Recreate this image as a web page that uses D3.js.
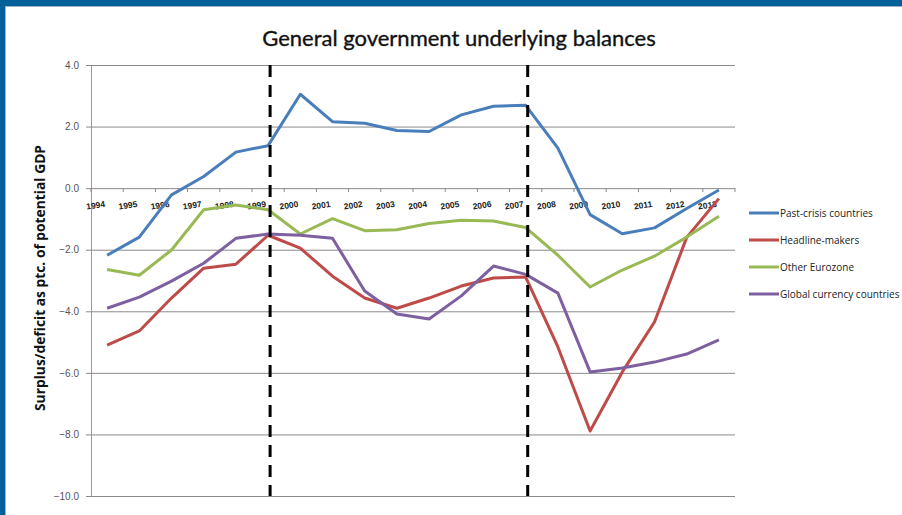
<!DOCTYPE html>
<html>
<head>
<meta charset="utf-8">
<script src="https://cdn.jsdelivr.net/npm/d3@7"></script>
<style>
  html, body { margin: 0; padding: 0; background: #fff; }
  svg { display: block; }
</style>
</head>
<body>
<svg id="chart" width="902" height="515"></svg>
<script>
// Years on the category axis
const years = ["1994","1995","1996","1997","1998","1999","2000","2001","2002","2003",
               "2004","2005","2006","2007","2008","2009","2010","2011","2012","2013"];

// Underlying balance, % of potential GDP
const pastCrisis   = [-2.18,-1.59,-0.22,0.38,1.17,1.38,3.05,2.16,2.11,1.87,1.84,2.38,2.66,2.69,1.30,-0.86,-1.48,-1.29,-0.66,-0.06];
const headline     = [-5.10,-4.64,-3.57,-2.60,-2.47,-1.53,-1.95,-2.86,-3.57,-3.90,-3.57,-3.18,-2.92,-2.89,-5.16,-7.89,-5.97,-4.35,-1.60,-0.34];
const otherEuro    = [-2.64,-2.83,-2.01,-0.70,-0.55,-0.70,-1.49,-0.99,-1.38,-1.35,-1.15,-1.04,-1.07,-1.28,-2.18,-3.21,-2.66,-2.21,-1.59,-0.91];
const globalCurr   = [-3.90,-3.54,-3.02,-2.44,-1.63,-1.49,-1.53,-1.63,-3.34,-4.09,-4.25,-3.50,-2.53,-2.80,-3.41,-5.97,-5.84,-5.65,-5.39,-4.93];

const seriesNames  = ["Past-crisis countries","Headline-makers","Other Eurozone","Global currency countries"];
const seriesColors = ["#4a7ebb","#be4b48","#98b954","#7d60a0"];
const yTicks       = [4,2,0,-2,-4,-6,-8,-10];
const markerYears  = ["1999","2007"];

const series = [pastCrisis, headline, otherEuro, globalCurr].map((v, i) => ({
  name: seriesNames[i], color: seriesColors[i], values: v
}));

const svg = d3.select("#chart");

// Frame bands
svg.append("rect").attr("x",0).attr("y",0).attr("width",902).attr("height",6).attr("fill","#04609b");
svg.append("rect").attr("x",0).attr("y",0).attr("width",5).attr("height",515).attr("fill","#04609b");
svg.append("line").attr("x1",5).attr("x2",902).attr("y1",6.5).attr("y2",6.5).attr("stroke","#9fb3c4").attr("stroke-width",1);
svg.append("line").attr("x1",5.5).attr("x2",5.5).attr("y1",6).attr("y2",515).attr("stroke","#9fb3c4").attr("stroke-width",1);

const plot = { left: 91, right: 735, top: 65, bottom: 496 };

const x = d3.scaleBand().domain(years).range([plot.left, plot.right]);
const y = d3.scaleLinear().domain([-10, 4]).range([plot.bottom, plot.top]);
const cx = yr => x(yr) + x.bandwidth() / 2;

// Title
svg.append("text")
  .attr("x", 459).attr("y", 46)
  .attr("text-anchor", "middle")
  .attr("font-family", "Lato, 'Open Sans', sans-serif")
  .attr("font-size", 22)
  .attr("fill", "#111")
  .attr("stroke", "#111").attr("stroke-width", 0.35)
  .text("General government underlying balances");

// Horizontal gridlines and y axis
const yAxis = d3.axisLeft(y).tickValues(yTicks).tickFormat(d3.format(".1f"))
  .tickSize(-(plot.right - plot.left)).tickPadding(12);
const gy = svg.append("g").attr("transform", `translate(${plot.left},0)`).call(yAxis);
gy.select(".domain").attr("stroke", "#9a9a9a");
gy.selectAll(".tick line").attr("stroke", "#8a8a8a").attr("stroke-width", 1);
gy.selectAll(".tick text")
  .attr("font-family", "'Liberation Sans', Arial, sans-serif")
  .attr("font-size", 10).attr("fill", "#555");
// short outer stubs
gy.selectAll(".tick").append("line")
  .attr("x1", -5).attr("x2", 0).attr("stroke", "#8a8a8a");

// Category ticks along the zero line
const bounds = years.map(d => x(d)).concat([plot.right]);
svg.append("g").selectAll("line").data(bounds).join("line")
  .attr("x1", d => d).attr("x2", d => d)
  .attr("y1", y(0)).attr("y2", y(0) + 4)
  .attr("stroke", "#8a8a8a");

// Category labels, slightly tilted
svg.append("g").selectAll("text").data(years).join("text")
  .attr("transform", d => `translate(${cx(d) - 11},${y(0) + 20}) rotate(-9)`)
  .attr("text-anchor", "middle")
  .attr("font-family", "'Liberation Sans', Arial, sans-serif")
  .attr("font-size", 8.5).attr("font-weight", "bold")
  .attr("fill", "#222")
  .text(d => d);

// Y-axis title
svg.append("text")
  .attr("transform", `translate(45,278) rotate(-90)`)
  .attr("text-anchor", "middle")
  .attr("font-family", "'Open Sans', sans-serif")
  .attr("font-size", 13.8).attr("font-weight", "bold")
  .attr("fill", "#111")
  .text("Surplus/deficit as ptc. of potential GDP");

// Series lines
const line = d3.line().x((d, i) => cx(years[i])).y(d => y(d));
svg.append("g").selectAll("path").data(series).join("path")
  .attr("d", d => line(d.values))
  .attr("fill", "none")
  .attr("stroke", d => d.color)
  .attr("stroke-width", 3)
  .attr("stroke-linejoin", "round");

// Dashed period markers
svg.append("g").selectAll("line").data(markerYears).join("line")
  .attr("x1", d => cx(d) + 2).attr("x2", d => cx(d) + 2)
  .attr("y1", plot.top).attr("y2", plot.bottom)
  .attr("stroke", "#000").attr("stroke-width", 3)
  .attr("stroke-dasharray", "12,8");

// Legend
const lg = svg.append("g").attr("transform", "translate(749,213)");
const item = lg.selectAll("g").data(series).join("g")
  .attr("transform", (d, i) => `translate(0,${i * 27})`);
item.append("line").attr("x1", 0).attr("x2", 30).attr("y1", 0).attr("y2", 0)
  .attr("stroke", d => d.color).attr("stroke-width", 3);
item.append("text").attr("x", 31).attr("y", 3.5)
  .attr("font-family", "'Open Sans', sans-serif")
  .attr("font-size", 10).attr("fill", "#222")
  .text(d => d.name);
</script>
</body>
</html>
